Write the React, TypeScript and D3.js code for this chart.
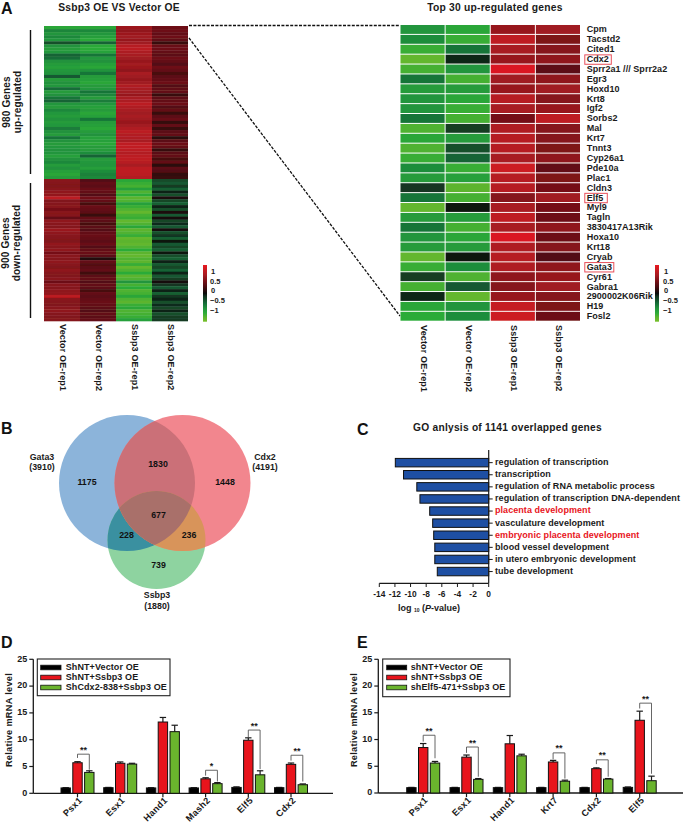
import React from "react";
import * as d3 from "d3";

// ---------- Panel A data ----------
const sampleLabels = ["Vector OE-rep1", "Vector OE-rep2", "Ssbp3 OE-rep1", "Ssbp3 OE-rep2"];
const upC1 = [-.85,-.6,-.7,-.62,-.7,-.3,-.68,-.75,-.72,-.4,-.45,-.68,-.75,-.8,-.72,-.68,-.35,-.75,-.68,-.72,-.45,-.75,-.68,-.5,-.4,-.72,-.75,-.62,-.72,-.75,-.68,-.75,-.72,-.55,-.68,-.75,-.5,-.68,-.75,-.72,-.68,-.7,-.8,-.68,-.62,-.75,-.68,-.8,-.85,-.75];
const upC2 = [-.85,-.62,-.72,-.78,-.88,-.4,-.88,-.9,-.82,-.5,-.72,-.68,-.8,-.85,-.68,-.5,-.75,-.8,-.85,-.75,-.72,-.5,-.6,-.75,-.55,-.72,-.8,-.75,-.85,-.8,-.5,-.75,-.8,-.85,-.75,-.68,-.8,-.8,-.85,-.75,-.75,-.65,-.4,-.75,-.72,-.7,-.78,-.65,-.58,-.62];
const upC3 = [.78,.72,.78,.8,.75,.8,.95,.98,.88,.85,.8,.75,.82,.78,.7,.85,.8,.75,.8,.9,.85,.8,.75,.85,.88,.98,.9,.85,.8,.85,.8,.75,.82,.9,.98,.92,.9,.85,1,1.02,.98,.92,.98,1,.95,.85,.98,1,.98,.92];
const upC4 = [.5,.5,.45,.5,.42,.22,.48,.5,.45,.4,.5,.45,.35,.5,.45,.3,.4,.45,.5,.35,.42,.45,.22,.4,.45,.5,.35,.45,.22,.4,.48,.2,.45,.22,.4,.45,.15,.4,.5,.45,.2,.4,.45,.28,.45,.15,.4,.35,.18,.22];
const downC1 = [.66,.64,.62,.66,.7,.72,.98,.62,.64,.66,.55,.66,.64,.45,.7,.66,.64,.76,.7,.66,.64,.62,.72,.66,.7,.55,.66,.64,.7,.66,.62,.7,.64,.62,.66,.5,.66,.64,.7,.72,.98,.66,.64,.62,.66,.7,.64,.62,.64];
const downC2 = [.35,.45,.4,.48,.45,.35,.52,.45,.28,.48,.45,.4,.22,.45,.4,.28,.4,.35,.45,.48,.45,.4,.48,.35,.45,.48,.4,.12,.45,.35,.4,.45,.25,.4,.45,.35,.45,.4,.28,.45,.4,.45,.48,.45,.4,.35,.45,.4,.45];
const downC3 = [-.85,-.95,-1,-.8,-1.05,-.9,-1.1,-1.05,-.8,-.95,-1.05,-1.15,-1,-.95,-1.15,-1.05,-.85,-1.1,-1.05,-.95,-1.15,-1.1,-1.15,-1.05,-.9,-1.1,-1.15,-1.05,-1.1,-.95,-1.15,-1.05,-.9,-1.1,-1.05,-.7,-1,-.9,-1.05,-1,-.85,-1.05,-1.1,-.95,-.85,-1.05,-1,-.95,-.8];
const downC4 = [-.28,-.35,-.18,-.38,-.08,-.3,.08,-.25,-.38,-.08,-.3,.1,-.35,.04,-.25,-.12,-.35,.04,-.3,-.15,-.38,-.04,-.35,-.25,-.38,-.04,-.3,-.38,-.08,-.35,-.25,-.4,-.08,-.35,-.2,.04,-.15,-.35,-.08,-.38,-.15,-.08,-.3,-.12,-.25,-.08,-.3,-.2,-.18];

const geneNames = ["Cpm","Tacstd2","Cited1","Cdx2","Sprr2a1 /// Sprr2a2","Egr3","Hoxd10","Krt8","Igf2","Sorbs2","Mal","Krt7","Tnnt3","Cyp26a1","Pde10a","Plac1","Cldn3","Elf5","Myl9","Tagln","3830417A13Rik","Hoxa10","Krt18","Cryab","Gata3","Cyr61","Gabra1","2900002K06Rik","H19","Fosl2"];
const topC1 = [-.7,-.65,-.95,-1.15,-1,-.5,-.75,-.7,-.7,-.5,-1.05,-.85,-1.05,-.95,-.65,-.75,-.15,-.5,-1.15,-.75,-.5,-.7,-.75,-1.15,-.95,-.2,-1,-.1,-.85,-.9];
const topC2 = [-.85,-.95,-.5,-.1,-.7,-1,-.75,-.85,-.95,-1,-.2,-.75,-.3,-.4,-.95,-.8,-1.1,-1,-.05,-.75,-1,-.85,-.75,-.03,-.65,-1.05,-.35,-1.15,-.7,-.65];
const topC3 = [.75,1,.85,.75,1.2,.8,.75,.95,.85,.55,.9,.95,.95,.85,1.1,.95,.95,.65,.85,1,.85,1.2,.9,.95,.9,.7,.65,.75,1.05,1.1];
const topC4 = [.8,.6,.65,.7,.4,.7,.8,.65,.75,1,.65,.65,.6,.7,.45,.6,.55,.8,.55,.5,.7,.5,.65,.35,.7,.75,.8,.65,.6,.5];
const boxedGenes = ["Cdx2","Elf5","Gata3"];
const legendTicks = ["1","0.5","0","\u22120.5","\u22121"];

// ---------- Panel B data ----------
const vennLabels = [["Gata3","(3910)"],["Cdx2","(4191)"],["Ssbp3","(1880)"]];
const vennCounts = ["1175","1830","1448","677","228","236","739"];
const vennFills = { a: "#8cb4da", b: "#f2868e", c: "#8ed3a0", ab: "#cb7078", ac: "#3a90a0", bc: "#d8945a", abc: "#a9706a" };

// ---------- Panel C data ----------
const goTerms = ["regulation of transcription","transcription","regulation of RNA metabolic process","regulation of transcription DNA-dependent","placenta development","vasculature development","embryonic placenta development","blood vessel development","in utero embryonic development","tube development"];
const goValues = [-11.95,-10.9,-9.2,-8.8,-7.55,-7.17,-7.04,-6.9,-6.9,-6.58];
const goRed = ["placenta development","embryonic placenta development"];
const goTicks = [-14,-12,-10,-8,-6,-4,-2,0];

// ---------- Panels D / E data ----------
const yTicks = [0,5,10,15,20,25];
const dGenes = ["Psx1","Esx1","Hand1","Mash2","Elf5","Cdx2"];
const dBlack = [1,1.05,1,1,1.1,1.05];
const dBlackErr = [.05,.05,.05,.05,.1,.05];
const dRed = [5.7,5.6,13.3,2.7,9.9,5.4];
const dRedErr = [.2,.25,.85,.2,.45,.25];
const dGreen = [3.9,5.45,11.5,1.8,3.45,1.6];
const dGreenErr = [.3,.15,1.2,.2,.75,.15];
const dSeries = ["ShNT+Vector OE","ShNT+Ssbp3 OE","ShCdx2-838+Ssbp3 OE"];
const dBrackets = [
  { g: 0, top: 7.3, l: 6.6, r: 4.4, s: "**" },
  { g: 3, top: 4.3, l: 3.3, r: 2.2, s: "*" },
  { g: 4, top: 11.8, l: 10.5, r: 4.5, s: "**" },
  { g: 5, top: 7.1, l: 6.1, r: 2.2, s: "**" },
];
const eGenes = ["Psx1","Esx1","Hand1","Krt7","Cdx2","Elf5"];
const eBlack = [1,1,1,1,1,1.05];
const eBlackErr = [.05,.05,.05,.05,.05,.08];
const eRed = [8.5,6.7,9.2,5.8,4.55,13.6];
const eRedErr = [.75,.4,1.55,.3,.15,1.7];
const eGreen = [5.6,2.55,6.95,2.2,2.6,2.3];
const eGreenErr = [.3,.15,.3,.2,.1,.85];
const eSeries = ["shNT+Vector OE","shNT+Ssbp3 OE","shElf5-471+Ssbp3 OE"];
const eBrackets = [
  { g: 0, top: 10.8, l: 9.6, r: 6.5, s: "**" },
  { g: 1, top: 8.6, l: 7.5, r: 3.05, s: "**" },
  { g: 3, top: 7.5, l: 6.3, r: 2.7, s: "**" },
  { g: 4, top: 6.2, l: 5.4, r: 3.05, s: "**" },
  { g: 5, top: 16.8, l: 15.8, r: 3.6, s: "**" },
];
const barColors = ["#000000","#e8141c","#6ab42d"];

const FONT = "'Liberation Sans', Arial, sans-serif";
const INK = "#1a1a1a";

const heat = d3.scaleLinear<string>()
  .domain([-1.3,-1.1,-.9,-.7,-.45,-.15,0,.3,.6,.85,1.1,1.3])
  .range(["#78c02a","#5cb42e","#2cab38","#22953c","#146c38","#123420","#0a0a0a","#4a0c10","#7e1219","#a81c22","#cc1a20","#e81820"])
  .clamp(true);

function HeatBlock({ cols, x0, x1, y0, y1, gap = 0 }: any) {
  const x = d3.scaleBand<number>().domain(d3.range(cols.length)).range([x0, x1]);
  const n = cols[0].length;
  const y = d3.scaleBand<number>().domain(d3.range(n)).range([y0, y1]);
  return (
    <g>
      {cols.map((c: number[], i: number) =>
        c.map((v, j) => (
          <rect key={i + "-" + j} x={x(i)!} y={y(j)!} width={x.bandwidth() - gap} height={y.bandwidth() - gap + (gap ? 0 : .3)} fill={heat(v)} />
        ))
      )}
    </g>
  );
}

function ColorLegend({ id, x, y0, y1, labelX }: any) {
  const s = d3.scaleLinear().domain([-1.3, 1.3]).range([y1, y0]);
  const stops = heat.domain();
  const lab = d3.scalePoint<string>().domain(legendTicks).range([271.7, 311.3]);
  return (
    <g>
      <defs>
        <linearGradient id={id} x1="0" y1="1" x2="0" y2="0">
          {stops.map((v) => <stop key={v} offset={(s(v) - y1) / (y0 - y1)} stopColor={heat(v)} />)}
        </linearGradient>
      </defs>
      <rect x={x} y={y0} width={4} height={y1 - y0} fill={`url(#${id})`} />
      {legendTicks.map((t) => (
        <text key={t} x={labelX + (t.length === 1 ? 1 : 0)} y={lab(t)} dominantBaseline="middle" fontSize={7.5} fontWeight="bold" fill={INK}>{t}</text>
      ))}
    </g>
  );
}

function BarPanel({ axisX, axisEnd, y0, y25, firstBar, pitch, genes, series, errs, brackets, legend, names, titleX }: any) {
  const y = d3.scaleLinear().domain([0, 25]).range([y0, y25]);
  const gx = d3.scaleBand<number>().domain(d3.range(genes.length)).range([firstBar, firstBar + pitch * genes.length]).paddingInner(0);
  const barW = 9.4, step = 11.8;
  const bx = (g: number, k: number) => gx(g)! + k * step;
  const cx = (g: number, k: number) => bx(g, k) + barW / 2;
  return (
    <g>
      <line x1={axisX} x2={axisX} y1={y25} y2={y0} stroke={INK} strokeWidth={1.3} />
      <line x1={axisX} x2={axisEnd} y1={y0} y2={y0} stroke={INK} strokeWidth={1.3} />
      {yTicks.map((t) => (
        <g key={t}>
          <line x1={axisX - 4} x2={axisX} y1={y(t)} y2={y(t)} stroke={INK} strokeWidth={1.2} />
          <text x={axisX - 6} y={y(t)} textAnchor="end" dominantBaseline="middle" fontSize={9} fontWeight="bold" fill={INK}>{t}</text>
        </g>
      ))}
      <text transform={`translate(${titleX},720) rotate(-90)`} textAnchor="middle" dominantBaseline="middle" fontSize={9.2} fontWeight="bold" fill={INK} letterSpacing={.3}>Relative mRNA level</text>
      {series.map((vals: number[], k: number) => vals.map((v, g) => (
        <g key={k + "-" + g}>
          <line x1={cx(g, k)} x2={cx(g, k)} y1={y(v)} y2={y(v + errs[k][g])} stroke={INK} strokeWidth={1.2} />
          <line x1={cx(g, k) - 3.2} x2={cx(g, k) + 3.2} y1={y(v + errs[k][g])} y2={y(v + errs[k][g])} stroke={INK} strokeWidth={1.2} />
          <rect x={bx(g, k)} y={y(v)} width={barW} height={y0 - y(v)} fill={barColors[k]} stroke="#111" strokeWidth={1} />
        </g>
      )))}
      {genes.map((n: string, g: number) => (
        <g key={n}>
          <line x1={cx(g, 1)} x2={cx(g, 1)} y1={y0} y2={y0 + 4} stroke={INK} strokeWidth={1.2} />
          <text transform={`translate(${cx(g, 1) + 3.5},${y0 + 6}) rotate(-45)`} textAnchor="end" dominantBaseline="middle" fontSize={9.2} fontWeight="bold" fill={INK} letterSpacing={.3}>{n}</text>
        </g>
      ))}
      {brackets.map((b: any) => (
        <g key={b.g}>
          <path d={`M${cx(b.g, 1)},${y(b.l)}V${y(b.top)}H${cx(b.g, 2)}V${y(b.r)}`} fill="none" stroke="#555" strokeWidth={.9} />
          <text x={(cx(b.g, 1) + cx(b.g, 2)) / 2} y={y(b.top) - 1.5} textAnchor="middle" fontSize={9} fontWeight="bold" fill={INK}>{b.s}</text>
        </g>
      ))}
      <rect x={legend.x0} y={legend.y0} width={legend.x1 - legend.x0} height={legend.y1 - legend.y0} fill="#fff" stroke="#222" strokeWidth={1.1} />
      {names.map((n: string, k: number) => {
        const ly = legend.y0 + 8.5 + k * 10;
        return (
          <g key={n}>
            <rect x={legend.sx0} y={ly - 2.3} width={legend.sx1 - legend.sx0} height={4.6} fill={barColors[k]} stroke="#111" strokeWidth={.8} />
            <text x={legend.tx} y={ly} dominantBaseline="middle" fontSize={9} fontWeight="bold" fill={INK} letterSpacing={.1}>{n}</text>
          </g>
        );
      })}
    </g>
  );
}

export default function App() {
  const cx = d3.scaleLinear().domain([-14, 0]).range([379.3, 488.7]);
  const cy = d3.scaleBand<string>().domain(goTerms).range([456.6, 577.6]).paddingInner(.3).paddingOuter(.15);
  const rowY = (i: number) => 25 + 9.89 * i;
  const vA = { cx: 127, cy: 483, r: 68 };
  const vB = { cx: 182.5, cy: 483, r: 68 };
  const vC = { cx: 156.5, cy: 540, r: 49 };
  return (
    <svg width={685} height={824} viewBox="0 0 685 824" style={{ position: "absolute", left: 0, top: 0, background: "#fff", fontFamily: FONT }}>
      <defs>
        <filter id="soft" x="-2%" y="-2%" width="104%" height="104%"><feGaussianBlur stdDeviation=".35" /></filter>
        <clipPath id="clipA"><circle {...vA} /></clipPath>
        <clipPath id="clipB"><circle {...vB} /></clipPath>
      </defs>

      {/* Panel letters */}
      {[["A",1,14],["B",1,434],["C",357,435],["D",1,648],["E",357,648]].map(([t,x,y]) => (
        <text key={t as string} x={x as number} y={y as number} fontSize={16} fontWeight="bold" fill="#111">{t}</text>
      ))}

      {/* Panel A left */}
      <text x={119} y={11} textAnchor="middle" fontSize={10.3} fontWeight="bold" fill={INK} letterSpacing={.2}>Ssbp3 OE VS Vector OE</text>
      <g filter="url(#soft)">
        <HeatBlock cols={[upC1, upC2, upC3, upC4]} x0={44} x1={188} y0={26} y1={179} />
        <HeatBlock cols={[downC1, downC2, downC3, downC4]} x0={44} x1={188} y0={179} y1={321} />
      </g>
      <line x1={30.5} x2={30.5} y1={30} y2={174} stroke="#111" strokeWidth={1.4} />
      <line x1={30.5} x2={30.5} y1={183} y2={318} stroke="#111" strokeWidth={1.4} />
      {[["980 Genes",7,102],["up-regulated",18,102],["900 Genes",6,243],["down-regulated",17,243]].map(([t,x,y]) => (
        <text key={t as string} transform={`translate(${x},${y}) rotate(-90)`} textAnchor="middle" dominantBaseline="middle" fontSize={10} fontWeight="bold" fill={INK} letterSpacing={.15}>{t}</text>
      ))}
      {sampleLabels.map((s, i) => (
        <text key={s + "L"} transform={`translate(${62 + i * 36},324) rotate(90)`} dominantBaseline="middle" fontSize={9} fontWeight="bold" fill={INK} letterSpacing={.15}>{s}</text>
      ))}
      <ColorLegend id="lg1" x={203} y0={265} y1={321.7} labelX={210} />

      {/* Connectors */}
      <path d="M189,25.5H400" stroke="#111" strokeWidth={1.3} strokeDasharray="3 1.4" fill="none" />
      <path d="M189,38L400,316" stroke="#111" strokeWidth={1.3} strokeDasharray="3 1.4" fill="none" />

      {/* Panel A right */}
      <text x={495} y={11} textAnchor="middle" fontSize={10.3} fontWeight="bold" fill={INK} letterSpacing={.2}>Top 30 up-regulated genes</text>
      <g filter="url(#soft)">
        <HeatBlock cols={[topC1, topC2, topC3, topC4]} x0={400.5} x1={581} y0={25} y1={321.7} gap={1} />
      </g>
      {geneNames.map((g, i) => (
        <text key={g} x={586.7} y={rowY(i) + 5} dominantBaseline="middle" fontSize={9} fontWeight="bold" fill={INK} letterSpacing={.05}>{g}</text>
      ))}
      {boxedGenes.map((g) => {
        const i = geneNames.indexOf(g);
        const w: Record<string, number> = { Cdx2: 26.5, Elf5: 22.5, Gata3: 29 };
        return <rect key={g} x={584.8} y={rowY(i) + .2} width={w[g]} height={9.4} fill="none" stroke="#e8505a" strokeWidth={1} />;
      })}
      <ColorLegend id="lg2" x={655} y0={265} y1={321.7} labelX={663} />
      {sampleLabels.map((s, i) => (
        <text key={s + "R"} transform={`translate(${423 + i * 45.1},325) rotate(90)`} dominantBaseline="middle" fontSize={9} fontWeight="bold" fill={INK} letterSpacing={.15}>{s}</text>
      ))}

      {/* Panel B venn */}
      <circle {...vA} fill={vennFills.a} />
      <circle {...vC} fill={vennFills.c} />
      <circle {...vB} fill={vennFills.b} />
      <g clipPath="url(#clipA)"><circle {...vC} fill={vennFills.ac} /></g>
      <g clipPath="url(#clipA)"><circle {...vB} fill={vennFills.ab} /></g>
      <g clipPath="url(#clipB)"><circle {...vC} fill={vennFills.bc} /></g>
      <g clipPath="url(#clipA)"><g clipPath="url(#clipB)"><circle {...vC} fill={vennFills.abc} /></g></g>
      {vennCounts.map((c, i) => {
        const p = [[87,483],[158,464.5],[225,483],[158.5,515.5],[126.5,536],[189,536],[158.5,565.5]][i];
        return <text key={c} x={p[0]} y={p[1]} textAnchor="middle" dominantBaseline="middle" fontSize={8.8} fontWeight="bold" fill="#111">{c}</text>;
      })}
      {vennLabels.map((lab, k) => {
        const p = [[42,457.5],[265,457.5],[157,596]][k];
        return lab.map((t, j) => (
          <text key={t} x={p[0]} y={p[1] + j * 10.3} textAnchor="middle" dominantBaseline="middle" fontSize={8.8} fontWeight="bold" fill={INK}>{t}</text>
        ));
      })}

      {/* Panel C */}
      <text x={507.5} y={431} textAnchor="middle" fontSize={10.2} fontWeight="bold" fill={INK} letterSpacing={.25}>GO anlysis of 1141 overlapped genes</text>
      {goTerms.map((t, i) => (
        <g key={t}>
          <rect x={cx(goValues[i])} y={cy(t)!} width={cx(0) - cx(goValues[i])} height={cy.bandwidth()} fill="#1e4fa3" stroke="#111" strokeWidth={1} />
          <line x1={cx(0)} x2={cx(0) + 4} y1={cy(t)! + cy.bandwidth() / 2} y2={cy(t)! + cy.bandwidth() / 2} stroke={INK} strokeWidth={1} />
          <text x={495} y={cy(t)! + cy.bandwidth() / 2} dominantBaseline="middle" fontSize={9} fontWeight="bold" fill={goRed.includes(t) ? "#e8141c" : INK} letterSpacing={.06}>{t}</text>
        </g>
      ))}
      <line x1={cx(0)} x2={cx(0)} y1={450} y2={583.3} stroke={INK} strokeWidth={1.2} />
      <line x1={cx(-14)} x2={cx(0)} y1={583.3} y2={583.3} stroke={INK} strokeWidth={1.2} />
      {goTicks.map((t) => (
        <g key={t}>
          <line x1={cx(t)} x2={cx(t)} y1={583.3} y2={587} stroke={INK} strokeWidth={1} />
          <text x={cx(t)} y={594.5} textAnchor="middle" dominantBaseline="middle" fontSize={8.4} fontWeight="bold" fill={INK}>{t}</text>
        </g>
      ))}
      <text x={429} y={609} textAnchor="middle" dominantBaseline="middle" fontSize={9} fontWeight="bold" fill={INK}>
        log <tspan fontSize={5} dy={2}>10</tspan> <tspan dy={-2}>(</tspan><tspan fontStyle="italic">P</tspan>-value)
      </text>

      {/* Panels D, E */}
      <BarPanel axisX={33.3} axisEnd={333} y0={793.3} y25={659.3} firstBar={61} pitch={42.7}
        genes={dGenes} series={[dBlack, dRed, dGreen]} errs={[dBlackErr, dRedErr, dGreenErr]} brackets={dBrackets}
        names={dSeries} titleX={9.5}
        legend={{ x0: 37.3, x1: 170, y0: 659, y1: 695.7, sx0: 40.7, sx1: 61, tx: 65.7 }} />
      <BarPanel axisX={378.3} axisEnd={683} y0={793} y25={659.3} firstBar={406.7} pitch={43.3}
        genes={eGenes} series={[eBlack, eRed, eGreen]} errs={[eBlackErr, eRedErr, eGreenErr]} brackets={eBrackets}
        names={eSeries} titleX={354.7}
        legend={{ x0: 382.7, x1: 510, y0: 659, y1: 696.7, sx0: 386.7, sx1: 406.7, tx: 410.7 }} />
    </svg>
  );
}
